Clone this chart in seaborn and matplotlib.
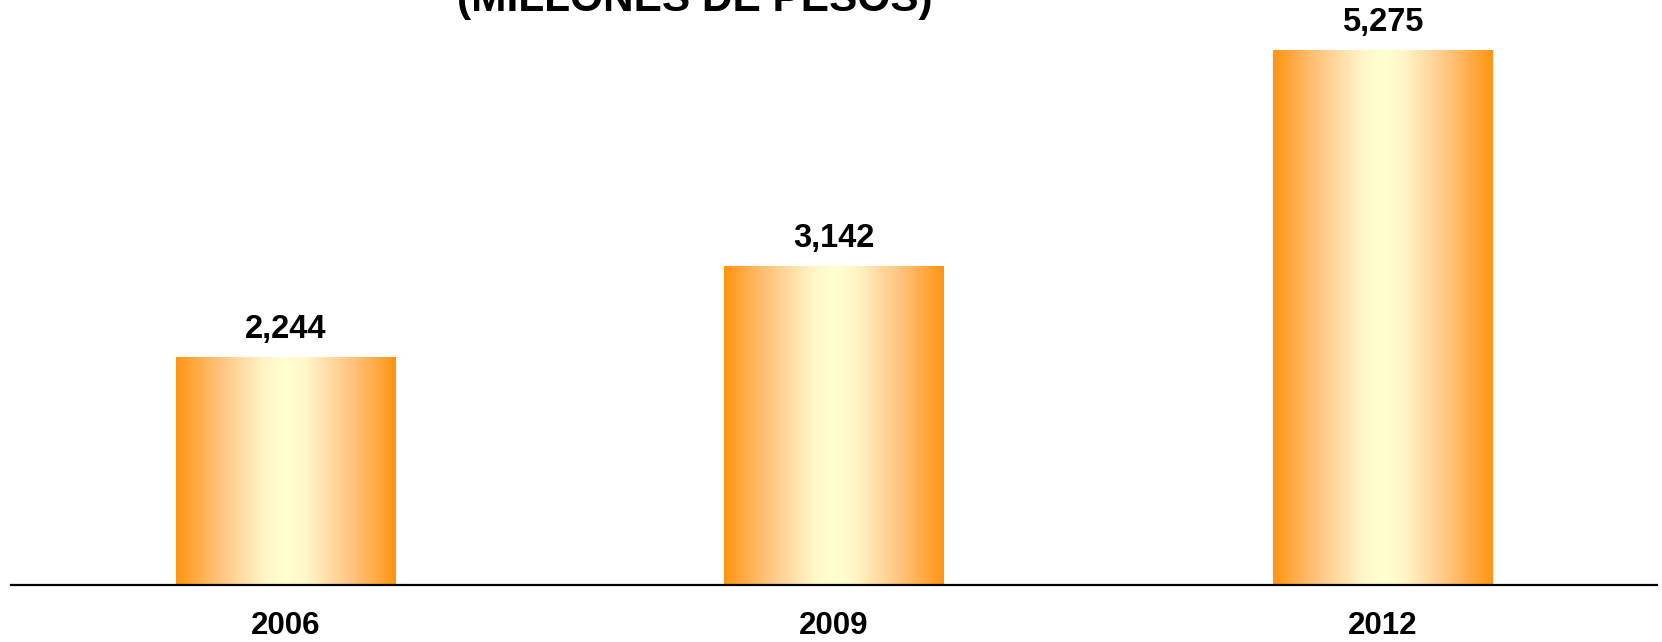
import matplotlib
matplotlib.use("Agg")
import matplotlib.pyplot as plt
from matplotlib.colors import LinearSegmentedColormap
import numpy as np
import pandas as pd
import seaborn as sns

years = ["2006", "2009", "2012"]
values = [2244, 3142, 5275]
title = "(MILLONES DE PESOS)"

df = pd.DataFrame({"year": years, "value": values})

sns.set_theme(style="white")
plt.rcParams["font.family"] = ["Liberation Sans", "DejaVu Sans"]

fig = plt.figure(figsize=(16.62, 6.42), dpi=100)
ax = fig.add_axes([0.0066, 0.0888, 0.9904, 0.8333])

sns.barplot(data=df, x="year", y="value", color="#FF9A1A", width=0.4,
            saturation=1, ax=ax)

# horizontal gradient: orange edges, pale yellow middle
cmap = LinearSegmentedColormap.from_list(
    "bar", [(0, "#FF9512"), (0.2, "#FFC47E"), (0.4, "#FFF5C8"),
            (0.5, "#FFFFD0"), (0.6, "#FFF5C8"), (0.8, "#FFC47E"), (1, "#FF9512")])
grad = np.linspace(0, 1, 256).reshape(1, -1)
for patch in ax.patches:
    x0, y0 = patch.get_x(), patch.get_y()
    w, h = patch.get_width(), patch.get_height()
    im = ax.imshow(grad, cmap=cmap, aspect="auto", extent=[x0, x0 + w, y0, y0 + h],
                   zorder=patch.get_zorder() + 0.1)
    im.set_clip_path(patch)
    patch.set_edgecolor("none")

for i, v in enumerate(values):
    ax.annotate(f"{v:,}", (i, v), xytext=(0, 9), textcoords="offset points",
                ha="center", va="bottom", fontsize=23.5, fontweight="bold",
                color="black", clip_on=False)

ax.set_xlim(-0.5, 2.5)
ax.set_ylim(0, max(values))
ax.set_xlabel("")
ax.set_ylabel("")
ax.set_yticks([])
for s in ["top", "left", "right"]:
    ax.spines[s].set_visible(False)
ax.spines["bottom"].set_color("black")
ax.spines["bottom"].set_linewidth(1.6)
ax.tick_params(axis="x", length=0, pad=19, labelsize=22.5)
for lbl in ax.get_xticklabels():
    lbl.set_fontweight("bold")
    lbl.set_color("black")

fig.text(0.418, 0.983, title, ha="center", va="baseline", fontsize=30.5,
         fontweight="bold", color="black")

fig.savefig("out.png", dpi=100, facecolor="white")
